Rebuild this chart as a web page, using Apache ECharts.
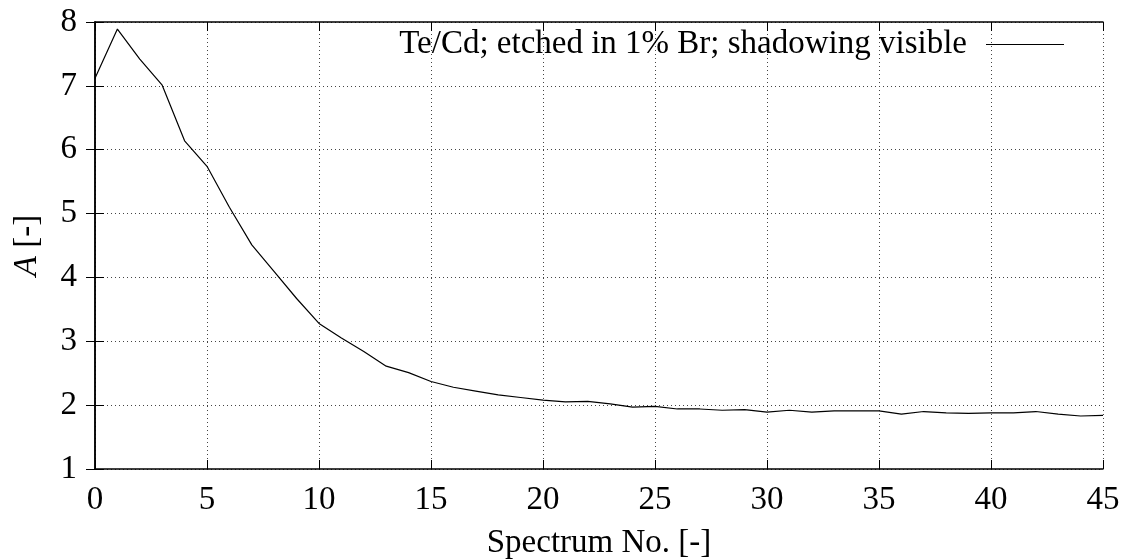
<!DOCTYPE html>
<html>
<head>
<meta charset="utf-8">
<script src="https://cdn.jsdelivr.net/npm/echarts@6/dist/echarts.min.js"></script>
<style>html,body{margin:0;padding:0;background:#fff}#c{width:1127px;height:560px}</style>
</head>
<body>
<div id="c"></div>
<script>
const seriesName = 'Te/Cd; etched in 1% Br; shadowing visible';
const spectrumNo = [0,1,2,3,4,5,6,7,8,9,10,11,12,13,14,15,16,17,18,19,20,21,22,23,24,25,26,27,28,29,30,31,32,33,34,35,36,37,38,39,40,41,42,43,44,45];
const aValues = [7.12,7.89,7.42,7.01,6.14,5.74,5.1,4.51,4.09,3.67,3.28,3.05,2.84,2.61,2.51,2.37,2.28,2.22,2.16,2.12,2.08,2.05,2.06,2.02,1.97,1.98,1.94,1.94,1.92,1.93,1.89,1.92,1.89,1.91,1.91,1.91,1.86,1.9,1.88,1.87,1.88,1.88,1.9,1.86,1.83,1.84];
const xTicks = [0,5,10,15,20,25,30,35,40,45];
const yTicks = [1,2,3,4,5,6,7,8];

const FONT = 'Liberation Serif';
const FS = 33;
const chart = echarts.init(document.getElementById('c'), null, {renderer:'canvas'});
const gridStyle = {show:true, lineStyle:{color:'#444', type:[1,3], width:1}};
const axisLine = {show:true, lineStyle:{color:'#000', width:1.5}};
const tick = {show:true, inside:true, length:9, lineStyle:{color:'#000', width:1}};
chart.setOption({
  animation:false,
  backgroundColor:'#fff',
  grid:{left:95, right:24, top:22, bottom:91, containLabel:false, outerBoundsMode:'none'},
  legend:{
    show:true, right:58, top:23, align:'right', itemWidth:78, itemHeight:12, itemGap:0,
    textStyle:{fontFamily:FONT, fontSize:FS, color:'#000', padding:[0,14,0,0]},
    data:[{name:seriesName, icon:'path://M0,6 L78,6 L78,7 L0,7 Z'}]
  },
  xAxis:[{
    type:'value', min:0, max:45, interval:5,
    name:'Spectrum No. [-]', nameLocation:'middle', nameGap:58,
    nameTextStyle:{fontFamily:FONT, fontSize:FS, color:'#000'},
    axisLine:axisLine, axisTick:tick, splitLine:gridStyle,
    axisLabel:{fontFamily:FONT, fontSize:FS, color:'#000', margin:15,
      formatter:v=>xTicks.includes(v)?String(v):''}
  },{
    type:'value', min:0, max:45, interval:5, position:'top',
    axisLine:axisLine, axisTick:tick, splitLine:{show:false}, axisLabel:{show:false}
  }],
  yAxis:[{
    type:'value', min:1, max:8, interval:1,
    name:'{i|A} [-]', nameLocation:'middle', nameGap:51, nameRotate:90,
    nameTextStyle:{fontFamily:FONT, fontSize:FS, color:'#000',
      rich:{i:{fontFamily:FONT, fontSize:FS, fontStyle:'italic', color:'#000'}}},
    axisLine:axisLine, axisTick:tick, splitLine:gridStyle,
    axisLabel:{fontFamily:FONT, fontSize:FS, color:'#000', margin:18,
      formatter:v=>yTicks.includes(v)?String(v):''}
  },{
    type:'value', min:1, max:8, interval:1, position:'right',
    axisLine:axisLine, axisTick:tick, splitLine:{show:false}, axisLabel:{show:false}
  }],
  series:[{
    name:seriesName, type:'line', xAxisIndex:0, yAxisIndex:0,
    data:spectrumNo.map((x,i)=>[x,aValues[i]]),
    showSymbol:false, symbol:'none',
    lineStyle:{color:'#000', width:1.2},
    itemStyle:{color:'#000'}
  }]
});
</script>
</body>
</html>
